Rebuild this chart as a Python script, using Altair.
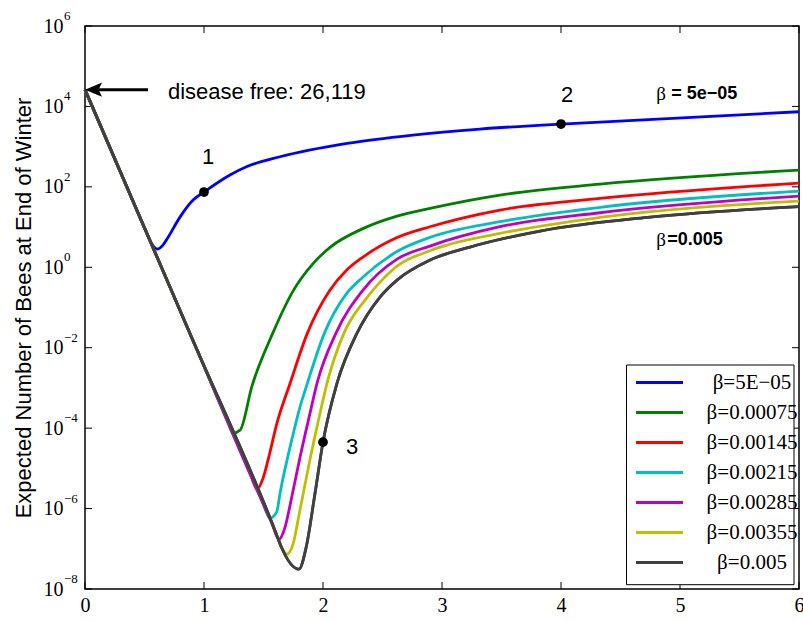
import altair as alt
import pandas as pd

# ---- series -------------------------------------------------------------
SERIES = ["β=5E−05", "β=0.00075", "β=0.00145", "β=0.00215",
          "β=0.00285", "β=0.00355", "β=0.005"]
COLORS = ["#0000ff", "#008000", "#ff0000", "#00bfbf",
          "#bf00bf", "#bfbf00", "#404040"]

DISEASE_FREE = 26119

x_b1 = [0, 0.3, 0.521, 0.563, 0.605, 0.655, 0.689, 0.798, 0.908, 1.0, 1.218,
        1.361, 1.639, 2.202, 2.756, 3.319, 4.0, 4.328, 6.0]
y_b1 = [26119, 226, 6.89, 3.78, 2.84, 3.57, 5.03, 17.7, 47.0, 74.3, 197,
        320, 561, 1208, 1945, 2741, 3648, 4093, 7379]

x_b2 = [0, 0.3, 0.9, 1.202, 1.244, 1.303, 1.403, 1.577, 1.748, 1.918, 2.059,
        2.339, 2.622, 2.899, 3.487, 4.328, 6.0]
y_b2 = [26119, 226, 1.70e-2, 1.44e-4, 7.52e-5, 8.91e-5, 1.11e-3, 2.27e-2,
        0.256, 1.25, 3.13, 9.29, 18.8, 29.2, 62.5, 117, 262]

x_b3 = [0, 0.3, 0.9, 1.387, 1.445, 1.496, 1.538, 1.613, 1.723, 1.868, 2.059,
        2.199, 2.339, 2.622, 2.899, 3.487, 4.328, 6.0]
y_b3 = [26119, 226, 1.70e-2, 7.78e-6, 3.04e-6, 5.70e-6, 1.60e-5, 1.33e-4,
        1.29e-3, 2.27e-2, 0.271, 0.851, 1.82, 5.48, 10.2, 26.5, 51.7, 124]

x_b4 = [0, 0.3, 0.9, 1.487, 1.555, 1.611, 1.639, 1.737, 1.807, 1.868, 2.011,
        2.199, 2.339, 2.622, 2.899, 3.487, 4.328, 6.0]
y_b4 = [26119, 226, 1.70e-2, 1.58e-6, 5.8e-7, 8.28e-7, 2.41e-6, 5.03e-5,
        3.39e-4, 1.29e-3, 2.27e-2, 0.224, 0.581, 2.46, 5.55, 13.6, 30.9,
        78.7]

x_b5 = [0, 0.3, 0.9, 1.571, 1.630, 1.681, 1.737, 1.807, 1.891, 1.950, 2.109,
        2.336, 2.622, 2.899, 3.487, 4.328, 6.0]
y_b5 = [26119, 226, 1.70e-2, 4.21e-7, 1.72e-7, 3.44e-7, 1.92e-6, 1.90e-5,
        2.36e-4, 1.32e-3, 2.31e-2, 0.271, 1.60, 3.37, 10.2, 22.7, 59.0]

x_b6 = [0, 0.3, 0.9, 1.605, 1.647, 1.697, 1.748, 1.798, 1.891, 1.975, 2.034,
        2.176, 2.353, 2.479, 2.622, 2.899, 3.487, 4.328, 6.0]
y_b6 = [26119, 226, 1.70e-2, 2.45e-7, 1.16e-7, 7.34e-8, 1.30e-7, 6.85e-7,
        1.69e-5, 2.36e-4, 1.32e-3, 2.31e-2, 0.153, 0.428, 1.07, 2.57, 6.97,
        17.4, 44.4]

x_b7 = [0, 0.3, 0.9, 1.605, 1.647, 1.798, 1.857, 1.933, 2.0, 2.118, 2.286,
        2.479, 2.622, 2.899, 3.235, 3.824, 4.748, 6.0]
y_b7 = [26119, 226, 1.70e-2, 2.45e-7, 1.16e-7, 3.11e-8, 1.04e-7, 2.41e-6,
        4.49e-5, 1.32e-3, 2.31e-2, 0.182, 0.481, 1.51, 3.18, 7.94, 17.7,
        32.4]

XS = [x_b1, x_b2, x_b3, x_b4, x_b5, x_b6, x_b7]
YS = [y_b1, y_b2, y_b3, y_b4, y_b5, y_b6, y_b7]

# marked points 1, 2, 3
mark_x = [1.0, 4.0, 2.0]
mark_y = [74.3, 3648, 4.49e-5]
mark_lbl = ["1", "2", "3"]

X_TICKS = [0, 1, 2, 3, 4, 5, 6]
Y_TICKS = [1e-8, 1e-6, 1e-4, 1e-2, 1, 1e2, 1e4, 1e6]
Y_EXPONENTS = ["−8", "−6", "−4", "−2", "0", "2", "4", "6"]

rows = []
for name, xs, ys in zip(SERIES, XS, YS):
    for i, (xv, yv) in enumerate(zip(xs, ys)):
        rows.append({"series": name, "x": xv, "y": yv, "idx": i})
df = pd.DataFrame(rows)
df_last = df[df["series"] == SERIES[-1]]
pts = pd.DataFrame({"x": mark_x, "y": mark_y, "label": mark_lbl})
one = pd.DataFrame({"k": [0]})

W, H = 714, 563

X_ENC = alt.X(
    "x:Q",
    scale=alt.Scale(domain=[0, 6], nice=False, zero=False),
    axis=alt.Axis(values=X_TICKS, ticks=False, domain=False, grid=False,
                  title=None, labelFont="Liberation Serif", labelFontSize=20,
                  labelColor="black", labelPadding=6, labelFlush=False,
                  format="d"),
)
Y_ENC = alt.Y(
    "y:Q",
    scale=alt.Scale(type="log", domain=[1e-8, 1e6], nice=False),
    axis=alt.Axis(values=Y_TICKS, ticks=False, domain=False, grid=False,
                  labelExpr="'10'", labelFont="Liberation Serif",
                  labelFontSize=20, labelColor="black", labelPadding=22,
                  title="Expected Number of Bees at End of Winter",
                  titleFont="Liberation Sans", titleFontSize=22,
                  titleFontWeight="normal", titleColor="black",
                  titleX=-62, titleY=H / 2, titleAngle=-90,
                  titleAlign="center", titleBaseline="middle"),
)

# legend frame (legend entries are drawn on top of it)
legend_box = alt.Chart(one).mark_rect(
    fill="white", stroke="black", strokeWidth=1
).encode(x=alt.value(541.5), x2=alt.value(709),
         y=alt.value(339), y2=alt.value(558.7))

lines = alt.Chart(df).mark_line(strokeWidth=2.8, interpolate="monotone").encode(
    x=X_ENC, y=Y_ENC,
    color=alt.Color(
        "series:N",
        scale=alt.Scale(domain=SERIES, range=COLORS),
        sort=SERIES,
        legend=alt.Legend(
            title=None, orient="none", legendX=549.5, legendY=345,
            symbolType="M-2.35,0L2.35,0", symbolSize=400,
            symbolStrokeWidth=3, symbolOffset=13.5,
            labelFont="Liberation Serif", labelFontSize=21,
            labelColor="black", labelAlign="center", labelOffset=81,
            rowPadding=8, padding=0,
        ),
    ),
    order="idx:Q",
)

top_line = alt.Chart(df_last).mark_line(
    strokeWidth=2.8, interpolate="monotone", color=COLORS[-1]
).encode(x=X_ENC, y=Y_ENC, order="idx:Q")

dots = alt.Chart(pts).mark_point(
    filled=True, color="black", size=95, opacity=1
).encode(x=X_ENC, y=Y_ENC)

label_font = dict(font="Liberation Sans", fontSize=22, color="black")
lab1 = alt.Chart(pts[pts.label == "1"]).mark_text(
    dx=4, dy=-35, **label_font).encode(x=X_ENC, y=Y_ENC, text="label:N")
lab2 = alt.Chart(pts[pts.label == "2"]).mark_text(
    dx=6, dy=-29, **label_font).encode(x=X_ENC, y=Y_ENC, text="label:N")
lab3 = alt.Chart(pts[pts.label == "3"]).mark_text(
    dx=29, dy=5, **label_font).encode(x=X_ENC, y=Y_ENC, text="label:N")

# disease-free arrow and caption
arrow_shaft = alt.Chart(one).mark_rule(strokeWidth=3, color="black").encode(
    x=alt.value(6), x2=alt.value(63), y=alt.datum(DISEASE_FREE))
arrow_head = alt.Chart(one).mark_point(
    shape="M0,0 L1,-0.42 L0.8,0 L1,0.42 Z", filled=True, color="black",
    size=1156, opacity=1, strokeWidth=1
).encode(x=alt.datum(0), y=alt.datum(DISEASE_FREE))
caption = alt.Chart(one).mark_text(
    align="left", baseline="middle", dx=83, dy=2, **label_font
).encode(x=alt.datum(0), y=alt.datum(DISEASE_FREE),
         text=alt.value("disease free: 26,119"))

# inline beta annotations
beta_font = dict(align="left", baseline="middle", font="Liberation Serif",
                 fontSize=19, color="black")
bold_font = dict(align="left", baseline="middle", font="Liberation Sans",
                 fontSize=18, fontWeight="bold", color="black")
beta_a = alt.Chart(one).mark_text(**beta_font).encode(
    x=alt.datum(4.8), y=alt.datum(2.04e4), text=alt.value("β"))
beta_a2 = alt.Chart(one).mark_text(dx=15, **bold_font).encode(
    x=alt.datum(4.8), y=alt.datum(2.04e4), text=alt.value("= 5e−05"))
beta_b = alt.Chart(one).mark_text(**beta_font).encode(
    x=alt.datum(4.8), y=alt.datum(4.75), text=alt.value("β"))
beta_b2 = alt.Chart(one).mark_text(dx=11, **bold_font).encode(
    x=alt.datum(4.8), y=alt.datum(4.75), text=alt.value("=0.005"))

# inward ticks on all four sides
xt = pd.DataFrame({"x": X_TICKS})
yt = pd.DataFrame({"y": Y_TICKS, "exp": Y_EXPONENTS})
tick_style = dict(color="black", strokeWidth=1)
xt_bottom = alt.Chart(xt).mark_rule(**tick_style).encode(
    x=X_ENC, y=alt.value(H), y2=alt.value(H - 7))
xt_top = alt.Chart(xt).mark_rule(**tick_style).encode(
    x=X_ENC, y=alt.value(0), y2=alt.value(7))
yt_left = alt.Chart(yt).mark_rule(**tick_style).encode(
    y=Y_ENC, x=alt.value(0), x2=alt.value(7))
yt_right = alt.Chart(yt).mark_rule(**tick_style).encode(
    y=Y_ENC, x=alt.value(W), x2=alt.value(W - 7))

# exponents of the power-of-ten tick labels
exponents = alt.Chart(yt).mark_text(
    align="left", baseline="middle", dx=-21, dy=-10,
    font="Liberation Serif", fontSize=13, color="black"
).encode(y=Y_ENC, x=alt.value(0), text="exp:N")

chart = alt.layer(
    xt_bottom, xt_top, yt_left, yt_right, legend_box,
    lines, top_line, dots, lab1, lab2, lab3,
    arrow_shaft, arrow_head, caption, beta_a, beta_a2, beta_b, beta_b2,
    exponents,
).properties(
    width=W, height=H,
    autosize=alt.AutoSizeParams(type="none"),
    padding={"left": 85, "top": 26, "right": 4, "bottom": 33},
    background="white",
).configure_view(stroke="black", strokeWidth=1.5)

chart.save("out.html", embed_options={"renderer": "svg", "actions": False})
